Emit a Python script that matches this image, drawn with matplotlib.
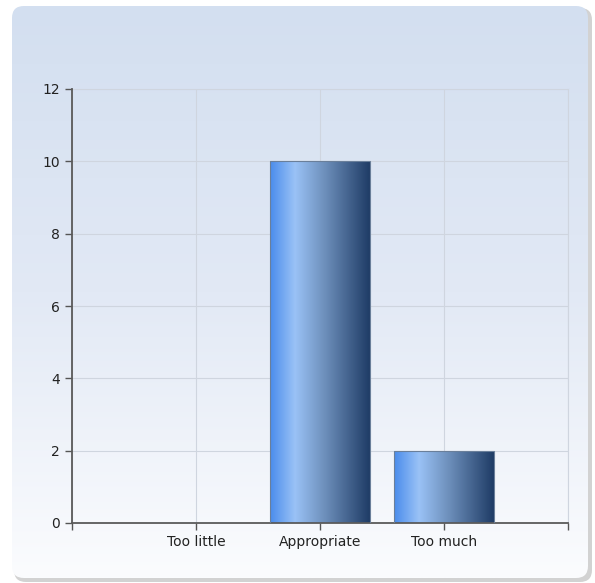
import matplotlib
matplotlib.use('Agg')
import matplotlib.pyplot as plt
import numpy as np
from matplotlib.patches import FancyBboxPatch
from matplotlib.colors import LinearSegmentedColormap

categories = ['Too little', 'Appropriate', 'Too much']
values = [0, 10, 2]
y_ticks = [0, 2, 4, 6, 8, 10, 12]

W, H = 595, 583
fig = plt.figure(figsize=(W / 100, H / 100), dpi=100)
fig.patch.set_facecolor('white')

# panel background with shadow and vertical gradient
bg = fig.add_axes([0, 0, 1, 1])
bg.set_xlim(0, W)
bg.set_ylim(H, 0)
bg.axis('off')
shadow = FancyBboxPatch((14, 8), 578, 574, boxstyle='round,pad=0,rounding_size=12',
                        facecolor='#d2d2d2', edgecolor='none')
bg.add_patch(shadow)
panel = FancyBboxPatch((12, 6), 576, 572, boxstyle='round,pad=0,rounding_size=12',
                       facecolor='none', edgecolor='none')
bg.add_patch(panel)
panel_cmap = LinearSegmentedColormap.from_list('panel', ['#d3dff0', '#e2e9f5', '#fbfcfe'])
grad = np.linspace(0, 1, 256).reshape(-1, 1)
im = bg.imshow(grad, cmap=panel_cmap, extent=[12, 588, 578, 6], aspect='auto', zorder=1)
im.set_clip_path(panel)

# main chart
ax = fig.add_axes([72 / W, 1 - 523 / H, 496 / W, 434 / H])
ax.patch.set_alpha(0)
x = np.arange(len(categories))
bars = ax.bar(x, values, width=0.8, color='none', edgecolor='#6a7f9a', linewidth=0.8, zorder=3)

bar_cmap = LinearSegmentedColormap.from_list(
    'bar', [(0, '#4a8cec'), (0.25, '#9ac2f6'), (0.55, '#6d8fbb'), (1, '#1f3c66')])
hgrad = np.linspace(0, 1, 256).reshape(1, -1)
for b in bars:
    if b.get_height() <= 0:
        continue
    x0, w, h = b.get_x(), b.get_width(), b.get_height()
    bim = ax.imshow(hgrad, cmap=bar_cmap, extent=[x0, x0 + w, 0, h], aspect='auto', zorder=2)
    bim.set_clip_path(b)

ax.set_xlim(-1, 3)
ax.set_ylim(0, 12)
ax.set_xticks([-1, 0, 1, 2, 3])
ax.set_xticklabels([''] + categories + [''])
ax.set_yticks(y_ticks)
ax.tick_params(axis='both', colors='#555555', labelcolor='#222222', labelsize=10,
               length=5, width=1)
ax.grid(True, color='#cfd5df', linewidth=0.8, zorder=0)
# right edge grid line
ax.axvline(3, color='#cfd5df', linewidth=0.8, zorder=0, clip_on=False)
ax.axhline(12, color='#cfd5df', linewidth=0.8, zorder=0, clip_on=False)
for side in ['top', 'right']:
    ax.spines[side].set_visible(False)
for side in ['left', 'bottom']:
    ax.spines[side].set_color('#5a5a5a')
    ax.spines[side].set_linewidth(1.3)
ax.set_axisbelow(True)

fig.savefig('out.png', dpi=100)
